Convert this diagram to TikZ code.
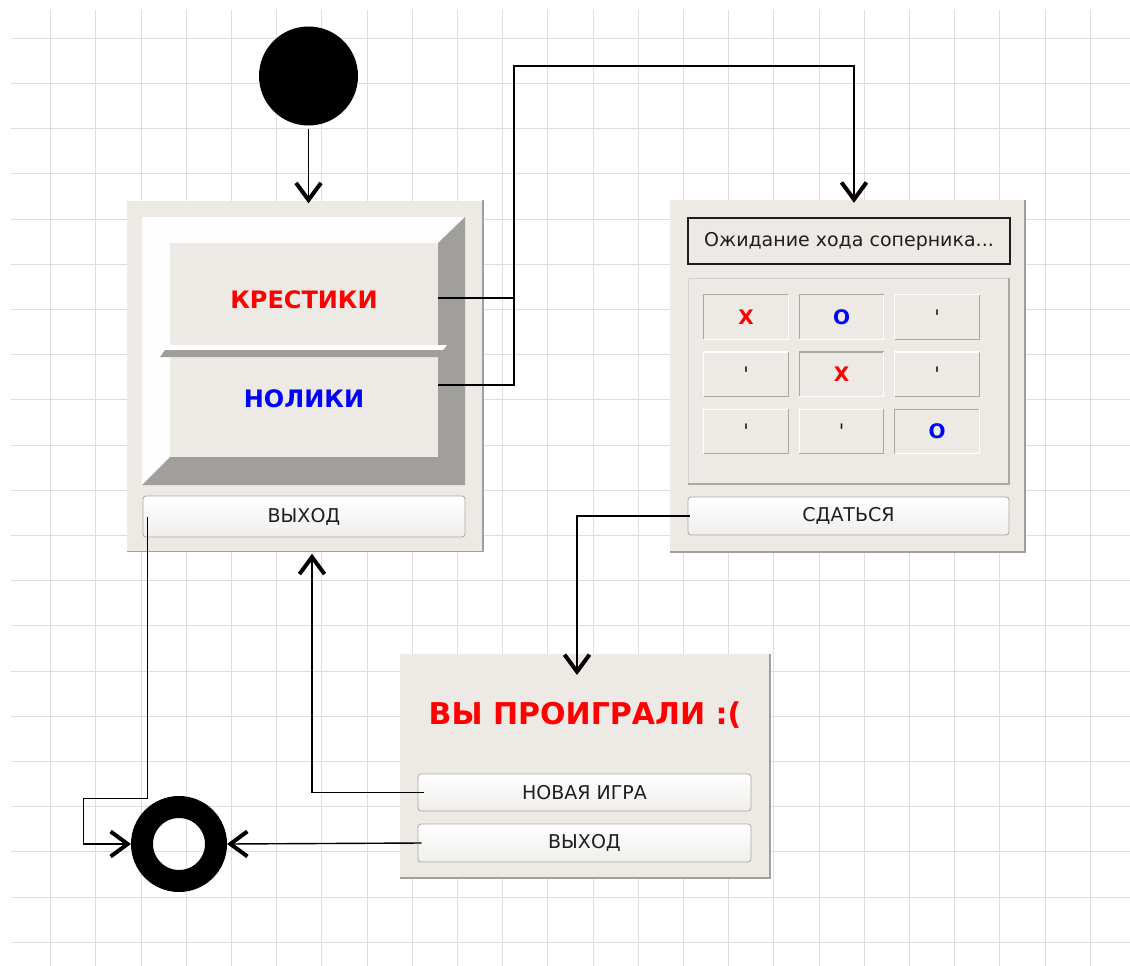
\documentclass[tikz,border=0pt]{standalone}
\usepackage{fontspec}
\setmainfont{DejaVu Sans}
\newfontfamily\tickfont{DejaVu Sans}[Ligatures=TeXOff]
\usetikzlibrary{arrows.meta, calc}

\definecolor{panel}{HTML}{EDEAE6}
\definecolor{bevel}{HTML}{A19F9B}
\definecolor{edge}{HTML}{ABA8A3}
\definecolor{gridgray}{HTML}{DEDEDE}
\definecolor{ink}{HTML}{1E1E1E}

\begin{document}
\begin{tikzpicture}[x=1pt, y=-1pt,
    flow/.style={line width=1.4pt, -{Straight Barb[length=17pt,width=25pt,line width=4pt]}},
    wire/.style={line width=1.4pt},
    gridline/.style={gridgray, line width=1pt},
    window/.style={rectangle, fill=panel, inner sep=0pt},
    winedge/.style={draw=bevel, line width=1.5pt},
    face/.style={rectangle, fill=panel, inner sep=0pt, minimum width=268pt},
    facetext/.style={font=\fontsize{24}{24}\selectfont\bfseries},
    pushbtn/.style={rectangle, rounded corners=3pt, draw=edge, line width=0.8pt,
        top color=white, bottom color=panel!80!gray!40!white, text=ink,
        inner sep=0pt, font=\fontsize{19}{19}\selectfont},
    cell/.style={rectangle, fill=panel, inner sep=0pt, minimum width=84pt,
        minimum height=44pt, font=\fontsize{20}{20}\selectfont\bfseries},
    cellX/.style={cell, text=red, node contents={X}},
    cellO/.style={cell, text=blue, node contents={O}},
    cellT/.style={cell, text=ink, node contents={\tickfont\mdseries '}}]

\useasboundingbox[fill=white] (0,0) rectangle (1130,966);
\foreach \i in {0,...,23}
\draw [gridline] ({50.7+45.2*\i},10) -- ({50.7+45.2*\i},966);
\foreach \j in {0,...,20}
\draw [gridline] (11,{38.3+45.2*\j}) -- (1130,{38.3+45.2*\j});

\node [circle, fill=black, inner sep=0pt, minimum size=99pt] (start) at (308.5,76) {};
\node [circle, draw=black, line width=22pt, inner sep=0pt, minimum size=74pt] (stop) at (179,844) {};

\node [window, minimum width=356pt, minimum height=351pt] (menu) at (305,376) {};
\draw [winedge] (menu.north east) -- (menu.south east) -- (menu.south west);
\fill [white!97!panel] (142,217) rectangle (465,485);
\fill [bevel] (465,217) -- (465,485) -- (142,485) -- (170,457) -- (438,457) -- (438,243) -- cycle;
\node [face, minimum height=102pt, label={[facetext, text=red, yshift=-6pt]center:КРЕСТИКИ}] (krest) at (304,294) {};
\node [face, minimum height=100pt, label={[facetext, text=blue, yshift=8pt]center:НОЛИКИ}] (nolik) at (304,407) {};
\fill [white] (170,345) -- (447,345) -- (443,350) -- (165,350) -- cycle;
\fill [bevel] (165,350) -- (443,350) -- (438,357) -- (160,357) -- cycle;
\node [pushbtn, minimum width=322pt, minimum height=41pt] (exitA) at (304,516.5) {ВЫХОД};

\node [window, minimum width=355pt, minimum height=352pt] (game) at (847.5,376) {};
\draw [winedge] (game.north east) -- (game.south east) -- (game.south west);
\node [rectangle, draw=ink, line width=1.6pt, fill=panel, minimum width=322pt, minimum height=46pt,
    inner sep=0pt, text=ink, font=\fontsize{19}{19}\selectfont] (status) at (849,241) {Ожидание хода соперника...};
\draw [gray!35, line width=1pt] (688,484) -- (688,278) -- (1009,278);
\draw [edge, line width=1.2pt] (1009,278) -- (1009,484) -- (688,484);
\foreach \i/\j/\m/\hi/\lo in {1/1/X/edge/white, 2/1/O/edge/white, 3/1/T/white/edge,
    1/2/T/white/edge, 2/2/X/edge/white, 3/2/T/white/edge,
    1/3/T/white/edge, 2/3/T/white/edge, 3/3/O/edge/white}{
\node [name=c\i\j, at={({746+95.5*(\i-1)},{317+57.25*(\j-1)})}, cell\m];
\draw [\hi, line width=1.2pt] (c\i\j.south west) -- (c\i\j.north west) -- (c\i\j.north east);
\draw [\lo, line width=1.2pt] (c\i\j.north east) -- (c\i\j.south east) -- (c\i\j.south west);
}
\node [pushbtn, minimum width=321pt, minimum height=38pt] (surrender) at (848.5,516) {СДАТЬСЯ};

\node [window, minimum width=370pt, minimum height=224pt] (lose) at (585,766) {};
\draw [winedge] (lose.north east) -- (lose.south east) -- (lose.south west);
\node [text=red, font=\fontsize{30}{30}\selectfont\bfseries] (title) at (585,715) {ВЫ ПРОИГРАЛИ :(};
\node [pushbtn, minimum width=333pt, minimum height=37pt] (newgame) at (584.5,792.5) {НОВАЯ ИГРА};
\node [pushbtn, minimum width=333pt, minimum height=38pt] (exitB) at (584.5,843) {ВЫХОД};

\coordinate (junction) at (514,298);
\coordinate (overTop) at (854,66);
\coordinate (loseIn) at (577,675);
\draw [flow] ([yshift=-3pt]start.south) -- ([yshift=-3pt]start.south |- menu.north);
\draw [flow] ([yshift=-4pt]krest.east) -- (junction) |- (overTop) -- ([yshift=-3pt]overTop |- game.north);
\draw [wire] ([yshift=22pt]nolik.east) -| (junction);
\draw [flow] ([xshift=2pt]surrender.west) -| (loseIn);
\draw [flow] ([xshift=6pt]newgame.west) -| ([xshift=7pt,yshift=-2pt]menu.south);
\draw [flow] ([xshift=5pt]exitA.west) -- ++(0,282) -- ++(-64,0) |- (stop.west);
\draw [flow] ([xshift=4pt]exitB.west) -- (stop.east);
\end{tikzpicture}
\end{document}
